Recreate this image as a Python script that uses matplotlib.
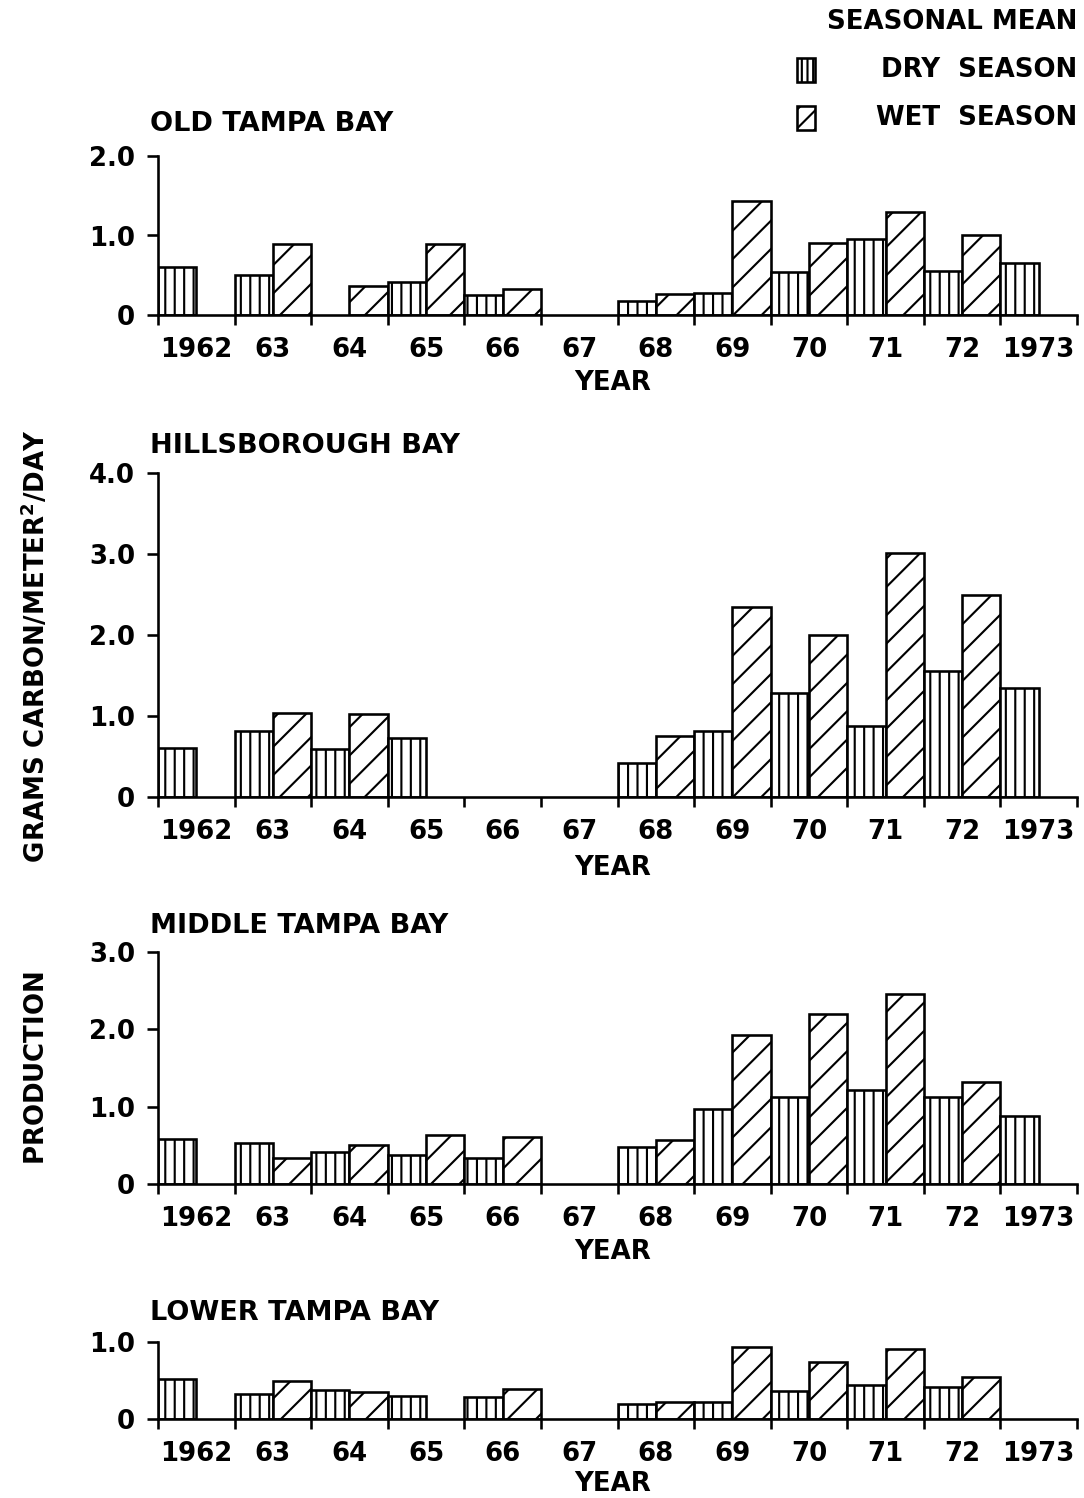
import matplotlib
matplotlib.use("Agg")
import matplotlib.pyplot as plt
from matplotlib.patches import Rectangle
from matplotlib.ticker import FixedLocator, NullFormatter, FixedFormatter

# ---------------- data ----------------
years = list(range(1962, 1974))
year_labels = ["1962", "63", "64", "65", "66", "67", "68", "69", "70", "71", "72", "1973"]

old_dry = [0.60, 0.50, None, 0.41, 0.25, None, 0.17, 0.28, 0.54, 0.96, 0.55, 0.66]
old_wet = [None, 0.89, 0.36, 0.89, 0.33, None, 0.27, 1.43, 0.90, 1.30, 1.00, None]

hil_dry = [0.61, 0.82, 0.59, 0.73, None, None, 0.42, 0.81, 1.29, 0.88, 1.55, 1.34]
hil_wet = [None, 1.04, 1.02, None, None, None, 0.75, 2.35, 2.00, 3.01, 2.50, None]

mid_dry = [0.58, 0.53, 0.41, 0.37, 0.34, None, 0.48, 0.97, 1.12, 1.22, 1.12, 0.88]
mid_wet = [None, 0.34, 0.50, 0.64, 0.61, None, 0.57, 1.93, 2.20, 2.46, 1.32, None]

low_dry = [0.52, 0.32, 0.375, 0.30, 0.28, None, 0.20, 0.215, 0.36, 0.44, 0.42, None]
low_wet = [None, 0.50, 0.35, None, 0.39, None, 0.22, 0.94, 0.74, 0.91, 0.54, None]

titles = ["OLD TAMPA BAY", "HILLSBOROUGH BAY", "MIDDLE TAMPA BAY", "LOWER TAMPA BAY"]
ymaxes = [2.0, 4.0, 3.0, 1.0]
yticks = [[0, 1.0, 2.0], [0, 1.0, 2.0, 3.0, 4.0], [0, 1.0, 2.0, 3.0], [0, 1.0]]
ytick_labels = [["0", "1.0", "2.0"], ["0", "1.0", "2.0", "3.0", "4.0"],
                ["0", "1.0", "2.0", "3.0"], ["0", "1.0"]]
dry_series = [old_dry, hil_dry, mid_dry, low_dry]
wet_series = [old_wet, hil_wet, mid_wet, low_wet]

# ---------------- style ----------------
W, H, DPI = 1084, 1498, 170
plt.rcParams["font.family"] = ["DejaVu Sans"]
plt.rcParams["font.weight"] = "bold"
plt.rcParams["font.size"] = 11
plt.rcParams["hatch.linewidth"] = 0.9
plt.rcParams["hatch.color"] = "black"
plt.rcParams["mathtext.default"] = "bf"

fig = plt.figure(figsize=(W / DPI, H / DPI), dpi=DPI)
fig.patch.set_facecolor("white")

def fx(px):
    return px / W

def fy(py):
    return 1 - py / H

LW = 1.1
DRY_HATCH = "|||"
WET_HATCH = "//"
ax_left, ax_right = 158, 1077
# (top pixel, bottom pixel) for each panel
panel_px = [(156, 315), (473, 797), (952, 1184), (1342, 1419)]
title_base = [131, 453, 933, 1320]
year_center = [383, 868, 1252, 1484]

for i in range(4):
    top, bot = panel_px[i]
    ax = fig.add_axes([fx(ax_left), fy(bot), fx(ax_right) - fx(ax_left), (bot - top) / H])
    ax.set_xlim(1962, 1974)
    ax.set_ylim(0, ymaxes[i])
    for y, d, w in zip(years, dry_series[i], wet_series[i]):
        if d is not None:
            ax.bar(y, d, width=0.5, align="edge", facecolor="white", edgecolor="black",
                   linewidth=LW, hatch=DRY_HATCH, zorder=2)
        if w is not None:
            ax.bar(y + 0.5, w, width=0.5, align="edge", facecolor="white", edgecolor="black",
                   linewidth=LW, hatch=WET_HATCH, zorder=2)
    for s in ["top", "right"]:
        ax.spines[s].set_visible(False)
    for s in ["left", "bottom"]:
        ax.spines[s].set_linewidth(LW)
        ax.spines[s].set_zorder(3)
    ax.xaxis.set_major_locator(FixedLocator(list(range(1962, 1975))))
    ax.xaxis.set_major_formatter(NullFormatter())
    ax.xaxis.set_minor_locator(FixedLocator([y + 0.5 for y in years]))
    ax.xaxis.set_minor_formatter(FixedFormatter(year_labels))
    ax.tick_params(axis="x", which="major", direction="out", length=4.3, width=LW)
    ax.tick_params(axis="x", which="minor", length=0, pad=9.5, labelsize=11)
    ax.set_yticks(yticks[i])
    ax.set_yticklabels(ytick_labels[i])
    ax.tick_params(axis="y", direction="out", length=4.7, width=LW, pad=5, labelsize=11)
    ax.patch.set_alpha(0)
    fig.text(fx(150), fy(title_base[i]), titles[i], ha="left", va="baseline", fontsize=11.5)
    fig.text(fx(613), fy(year_center[i]), "YEAR", ha="center", va="center", fontsize=11)

# y-axis label
fig.text(fx(36), fy(797), "PRODUCTION" + " " * 12 + "GRAMS CARBON/METER$^{2}$/DAY",
         rotation=90, ha="center", va="center", fontsize=11)

# legend
fig.text(fx(1077), fy(22), "SEASONAL MEAN", ha="right", va="center", fontsize=11)
fig.text(fx(1077), fy(70), "DRY  SEASON", ha="right", va="center", fontsize=11)
fig.text(fx(1077), fy(118), "WET  SEASON", ha="right", va="center", fontsize=11)
fig.add_artist(Rectangle((fx(797), fy(82)), fx(18), 24 / H, transform=fig.transFigure,
                         facecolor="white", edgecolor="black", linewidth=LW, hatch="|||||"))
fig.add_artist(Rectangle((fx(797), fy(130)), fx(18), 24 / H, transform=fig.transFigure,
                         facecolor="white", edgecolor="black", linewidth=LW, hatch="///"))

fig.savefig("out.png", dpi=DPI, facecolor="white")
